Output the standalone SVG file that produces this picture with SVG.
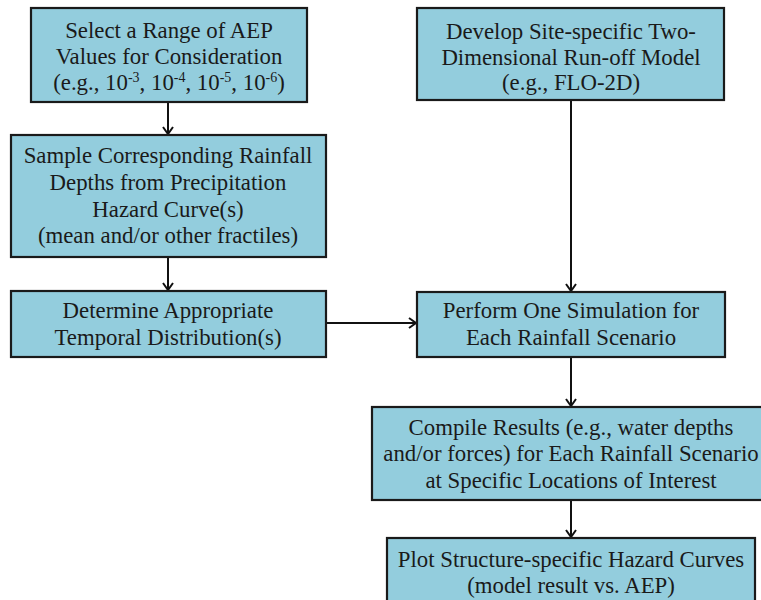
<svg xmlns="http://www.w3.org/2000/svg" width="761" height="600" viewBox="0 0 761 600">
<defs>
<marker id="arr" markerWidth="12" markerHeight="12" refX="10" refY="6" orient="auto" markerUnits="userSpaceOnUse">
<path d="M3,1 L10,6 L3,11" fill="none" stroke="#111" stroke-width="2"/>
</marker>
<style>
.box{fill:#93cddd;stroke:#1a1a1a;stroke-width:2.2}
.t{font-family:"Liberation Serif","Times New Roman",serif;font-size:22.8px;fill:#1a1a1a;text-anchor:middle}
.c{stroke:#111;stroke-width:2;fill:none}
.s{font-size:14px}
</style>
</defs>
<rect width="761" height="600" fill="#fff"/>
<g id="connectors">
<line class="c" x1="168" y1="102" x2="168" y2="134" marker-end="url(#arr)"/>
<line class="c" x1="168" y1="257" x2="168" y2="290" marker-end="url(#arr)"/>
<line class="c" x1="571" y1="100" x2="571" y2="291" marker-end="url(#arr)"/>
<line class="c" x1="326" y1="323" x2="416" y2="323" marker-end="url(#arr)"/>
<line class="c" x1="571" y1="357" x2="571" y2="406" marker-end="url(#arr)"/>
<line class="c" x1="571" y1="500" x2="571" y2="537" marker-end="url(#arr)"/>
</g>
<g id="n1">
<rect class="box" x="31" y="8" width="276" height="94"/>
<text class="t" x="169" y="38">Select a Range of AEP</text>
<text class="t" x="169" y="64">Values  for Consideration</text>
<text class="t" x="169" y="90">(e.g., 10<tspan class="s" dy="-8">-3</tspan><tspan dy="8">, 10</tspan><tspan class="s" dy="-8">-4</tspan><tspan dy="8">, 10</tspan><tspan class="s" dy="-8">-5</tspan><tspan dy="8">, 10</tspan><tspan class="s" dy="-8">-6</tspan><tspan dy="8">)</tspan></text>
</g>
<g id="n2">
<rect class="box" x="11" y="135" width="315" height="122"/>
<text class="t" x="168" y="163">Sample Corresponding Rainfall</text>
<text class="t" x="168" y="190">Depths from Precipitation</text>
<text class="t" x="168" y="217">Hazard Curve(s)</text>
<text class="t" x="168" y="243">(mean and/or other fractiles)</text>
</g>
<g id="n3">
<rect class="box" x="11" y="291" width="315" height="66"/>
<text class="t" x="168" y="318">Determine Appropriate</text>
<text class="t" x="168" y="345">Temporal Distribution(s)</text>
</g>
<g id="n4">
<rect class="box" x="417" y="8" width="307" height="92"/>
<text class="t" x="571" y="39">Develop Site-specific  Two-</text>
<text class="t" x="571" y="65">Dimensional  Run-off Model</text>
<text class="t" x="571" y="90">(e.g., FLO-2D)</text>
</g>
<g id="n5">
<rect class="box" x="417" y="292" width="308" height="65"/>
<text class="t" x="571" y="318">Perform One Simulation  for</text>
<text class="t" x="571" y="345">Each Rainfall Scenario</text>
</g>
<g id="n6">
<rect class="box" x="372" y="407" width="400" height="93"/>
<text class="t" x="571" y="435">Compile  Results (e.g., water depths</text>
<text class="t" x="571" y="461">and/or forces) for Each Rainfall Scenario</text>
<text class="t" x="571" y="488">at Specific  Locations of Interest</text>
</g>
<g id="n7">
<rect class="box" x="387" y="538" width="368" height="80"/>
<text class="t" x="571" y="567">Plot Structure-specific Hazard Curves</text>
<text class="t" x="571" y="593">(model result vs. AEP)</text>
</g>
</svg>
